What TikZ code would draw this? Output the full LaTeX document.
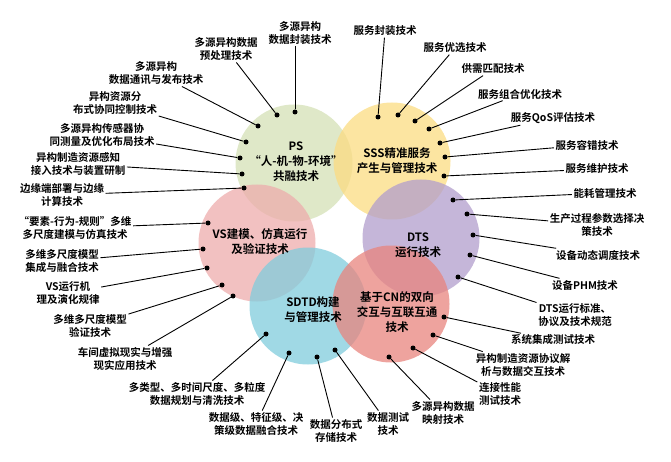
\documentclass[tikz,border=0pt]{standalone}
\usepackage{fontspec}
\setmainfont{Noto Sans CJK SC}[BoldFont={Noto Sans CJK SC Bold}]
\usepackage{tikz}
\usetikzlibrary{calc}
\definecolor{psgreen}{RGB}{212,224,182}
\definecolor{sssyellow}{RGB}{251,220,130}
\definecolor{dtspurple}{RGB}{178,158,204}
\definecolor{cnred}{RGB}{232,132,126}
\definecolor{sdtdcyan}{RGB}{128,204,220}
\definecolor{vspink}{RGB}{238,172,172}
\tikzstyle{techcircle} = [
  circle, minimum size=117pt, inner sep=0pt, fill opacity=0.75
]
\tikzstyle{coretext} = [
  align=center, font=\fontsize{11.5}{15}\selectfont\bfseries, inner sep=0pt
]
\tikzstyle{techlabel} = [
  align=center, font=\fontsize{10.5}{13.5}\selectfont\bfseries, inner sep=1.5pt
]
\tikzstyle{pin} = [circle, fill=black, inner sep=0pt, minimum size=5pt]
\tikzstyle{leader} = [line width=0.9pt, black]

\begin{document}
\begin{tikzpicture}[x=1pt, y=-1pt]

  \useasboundingbox (0,0) rectangle (671,462);

  % Core circles
  \node[techcircle, fill=psgreen] (ps) at (294,163) {};
  \node[techcircle, fill=sssyellow] (sss) at (392,161) {};
  \node[techcircle, fill=dtspurple] (dts) at (421,238) {};
  \node[techcircle, fill=vspink] (vs) at (257,243) {};
  \node[techcircle, fill=sdtdcyan] (sdtd) at (308,306) {};
  \node[techcircle, fill=cnred] (cn) at (391,304) {};

  % Core texts
  \node[coretext] (pstext) at (296,162) {PS\\“人-机-物-环境”\\共融技术};
  \node[coretext] (ssstext) at (397,161) {SSS精准服务\\产生与管理技术};
  \node[coretext] (dtstext) at (418,245) {DTS\\运行技术};
  \node[coretext] (vstext) at (260,242) {VS建模、仿真运行\\及验证技术};
  \node[coretext] (sdtdtext) at (313,310) {SDTD构建\\与管理技术};
  \node[coretext] (cntext) at (397,312) {基于CN的双向\\交互与互联互通\\技术};

  % PS technologies
  \node[techlabel] (t1) at (300,33) {多源异构\\数据封装技术};
  \node[techlabel] (t2) at (226,49) {多源异构数据\\预处理技术};
  \node[techlabel] (t3) at (156,73) {多源异构\\数据通讯与发布技术};
  \node[techlabel] (t4) at (115,103) {异构资源分\\布式协同控制技术};
  \node[techlabel] (t5) at (102,135) {多源异构传感器协\\同测量及优化布局技术};
  \node[techlabel] (t6) at (78,164) {异构制造资源感知\\接入技术与装置研制};
  \node[techlabel] (t7) at (62,195) {边缘端部署与边缘\\计算技术};
  \node[pin] (d1) at (295,112) {};
  \node[pin] (d2) at (277,115) {};
  \node[pin] (d3) at (258,126) {};
  \node[pin] (d4) at (246,142) {};
  \node[pin] (d5) at (240,158) {};
  \node[pin] (d6) at (242,174) {};
  \node[pin] (d7) at (244,188) {};

  % VS technologies
  \node[techlabel] (t8) at (75,228) {“要素-行为-规则”多维\\多尺度建模与仿真技术};
  \node[techlabel] (t9) at (62,261) {多维多尺度模型\\集成与融合技术};
  \node[techlabel] (t10) at (68,293) {VS运行机\\理及演化规律};
  \node[techlabel] (t11) at (90,326) {多维多尺度模型\\验证技术};
  \node[techlabel] (t12) at (125,359) {车间虚拟现实与增强\\现实应用技术};
  \node[pin] (d8) at (208,223) {};
  \node[pin] (d9) at (203,249) {};
  \node[pin] (d10) at (207,268) {};
  \node[pin] (d11) at (222,285) {};
  \node[pin] (d12) at (233,296) {};

  % SDTD technologies
  \node[techlabel] (t13) at (197,394) {多类型、多时间尺度、多粒度\\数据规划与清洗技术};
  \node[techlabel] (t14) at (256,424) {数据级、特征级、决\\策级数据融合技术};
  \node[techlabel] (t15) at (336,431) {数据分布式\\存储技术};
  \node[techlabel] (t16) at (388,424) {数据测试\\技术};
  \node[pin] (d13) at (266,334) {};
  \node[pin] (d14) at (289,353) {};
  \node[pin] (d15) at (317,357) {};
  \node[pin] (d16) at (335,350) {};

  % CN technologies
  \node[techlabel] (t17) at (443,413) {多源异构数据\\映射技术};
  \node[techlabel] (t18) at (500,394) {连接性能\\测试技术};
  \node[techlabel] (t19) at (523,365) {异构制造资源协议解\\析与数据交互技术};
  \node[techlabel] (t20) at (553,340) {系统集成测试技术};
  \node[pin] (d17) at (389,357) {};
  \node[pin] (d18) at (413,348) {};
  \node[pin] (d19) at (433,335) {};
  \node[pin] (d20) at (444,317) {};

  % DTS technologies
  \node[techlabel] (t21) at (575,315) {DTS运行标准、\\协议及技术规范};
  \node[techlabel] (t22) at (585,285) {设备PHM技术};
  \node[techlabel] (t23) at (598,255) {设备动态调度技术};
  \node[techlabel] (t24) at (597,225) {生产过程参数选择决\\策技术};
  \node[techlabel] (t25) at (605,193) {能耗管理技术};
  \node[pin] (d21) at (458,277) {};
  \node[pin] (d22) at (470,255) {};
  \node[pin] (d23) at (473,235) {};
  \node[pin] (d24) at (467,214) {};
  \node[pin] (d25) at (453,200) {};

  % SSS technologies
  \node[techlabel] (t26) at (597,169) {服务维护技术};
  \node[techlabel] (t27) at (587,145) {服务容错技术};
  \node[techlabel] (t28) at (553,118) {服务QoS评估技术};
  \node[techlabel] (t29) at (520,94) {服务组合优化技术};
  \node[techlabel] (t30) at (493,69) {供需匹配技术};
  \node[techlabel] (t31) at (455,48) {服务优选技术};
  \node[techlabel] (t32) at (385,31) {服务封装技术};
  \node[pin] (d26) at (444,176) {};
  \node[pin] (d27) at (445,157) {};
  \node[pin] (d28) at (440,143) {};
  \node[pin] (d29) at (429,129) {};
  \node[pin] (d30) at (415,121) {};
  \node[pin] (d31) at (398,115) {};
  \node[pin] (d32) at (378,117) {};

  % Leaders
  \draw[leader] (d1) -- (d1 |- t1.south);
  \foreach \i in {2,...,32}
    \draw[leader] (d\i) -- (t\i);

\end{tikzpicture}
\end{document}
